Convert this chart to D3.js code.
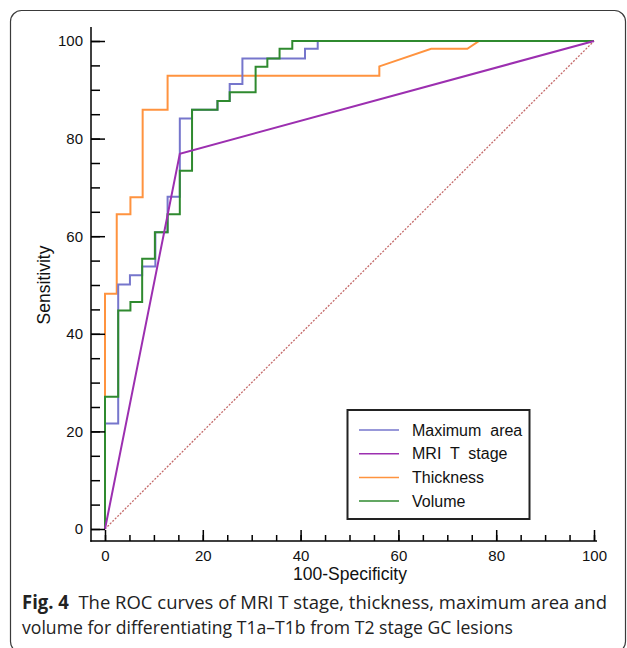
<!DOCTYPE html>
<html>
<head>
<meta charset="utf-8">
<script src="https://cdn.jsdelivr.net/npm/d3@7"></script>
<style>
  body { margin: 0; background: #fff; }
  svg { display: block; }
</style>
</head>
<body>
<svg id="chart" width="627" height="648"></svg>
<script>
// ROC points: [100-specificity, sensitivity]
const maxArea = [[0,0],[0,21.6],[2.7,21.6],[2.7,50.1],[5.1,50.1],[5.1,52],[7.6,52],[7.6,53.8],
  [10.3,53.8],[10.3,60.8],[12.8,60.8],[12.8,68.1],[15.3,68.1],[15.3,84.1],[17.8,84.1],[17.8,85.9],
  [23,85.9],[23,87.7],[25.5,87.7],[25.5,91.2],[28.1,91.2],[28.1,96.4],[40.9,96.4],[40.9,98.4],
  [43.5,98.4],[43.5,100],[100,100]];
const mriStage = [[0,0],[15.3,76.9],[100,100]];
const thickness = [[0,0],[0,48.2],[2.4,48.2],[2.4,64.5],[5.2,64.5],[5.2,68],[7.7,68],[7.7,85.9],
  [12.8,85.9],[12.8,92.9],[56.1,92.9],[56.1,94.8],[66.7,98.4],[74.1,98.4],[76.5,100],[100,100]];
const volume = [[0,0],[0,27.1],[2.7,27.1],[2.7,44.8],[5.2,44.8],[5.2,46.5],[7.6,46.5],[7.6,55.4],
  [10.2,55.4],[10.2,60.8],[12.8,60.8],[12.8,64.5],[15.3,64.5],[15.3,73.4],[17.8,73.4],[17.8,85.9],
  [23,85.9],[23,87.7],[25.5,87.7],[25.5,89.5],[30.8,89.5],[30.8,94.7],[33.2,94.7],[33.2,96.4],
  [35.7,96.4],[35.7,98.4],[38.3,98.4],[38.3,100],[100,100]];
const chance = [[0,0],[100,100]];

const majorTicks = [0, 20, 40, 60, 80, 100];
const minorTicks = d3.range(0, 101, 5);

const series = [
  { name: 'Maximum  area', data: maxArea, color: '#7676cc' },
  { name: 'MRI  T  stage', data: mriStage, color: '#9c2fb0' },
  { name: 'Thickness', data: thickness, color: '#ff933f' },
  { name: 'Volume', data: volume, color: '#2f8a2f' }
];
const drawOrder = ['Thickness', 'Maximum  area', 'Volume', 'MRI  T  stage'];

const svg = d3.select('#chart');

// figure frame
svg.append('rect')
  .attr('x', 10.5).attr('y', 10.5)
  .attr('width', 615).attr('height', 642)
  .attr('rx', 11)
  .attr('fill', 'none')
  .attr('stroke', '#3a3a3a')
  .attr('stroke-width', 1.2);

const x = d3.scaleLinear().domain([0, 100]).range([105, 594]);
const y = d3.scaleLinear().domain([0, 100]).range([529, 41]);

const line = d3.line().x(d => x(d[0])).y(d => y(d[1]));

// chance diagonal
svg.append('path')
  .attr('d', line(chance))
  .attr('fill', 'none')
  .attr('stroke', '#c46a6a')
  .attr('stroke-width', 1.3)
  .attr('stroke-dasharray', '2,1.5');

drawOrder.forEach(n => {
  const s = series.find(d => d.name === n);
  svg.append('path')
    .attr('d', line(s.data))
    .attr('fill', 'none')
    .attr('stroke', s.color)
    .attr('stroke-width', 2);
});

// axes
const axisFont = 'Liberation Sans, Arial, sans-serif';

const yMajor = svg.append('g').attr('transform', 'translate(91,0)')
  .call(d3.axisLeft(y).tickValues(majorTicks).tickSize(-14).tickPadding(8));
const yMinor = svg.append('g').attr('transform', 'translate(91,0)')
  .call(d3.axisLeft(y).tickValues(minorTicks).tickSize(-9).tickFormat(''));
const xMajor = svg.append('g').attr('transform', 'translate(0,541)')
  .call(d3.axisBottom(x).tickValues(majorTicks).tickSize(-11).tickPadding(6));
const xMinor = svg.append('g').attr('transform', 'translate(0,541)')
  .call(d3.axisBottom(x).tickValues(minorTicks).tickSize(-6).tickFormat(''));

[yMajor, yMinor, xMajor, xMinor].forEach(g => {
  g.select('.domain').remove();
  g.selectAll('line').attr('stroke', '#000').attr('stroke-width', 1.5);
  g.selectAll('text').attr('font-family', axisFont).attr('font-size', 15).attr('fill', '#111');
});
xMajor.selectAll('text').attr('dy', '0.9em');

svg.append('line').attr('x1', 91).attr('x2', 91).attr('y1', 27).attr('y2', 541.7)
  .attr('stroke', '#000').attr('stroke-width', 1.5);
svg.append('line').attr('x1', 90.3).attr('x2', 597).attr('y1', 541).attr('y2', 541)
  .attr('stroke', '#000').attr('stroke-width', 1.5);

svg.append('text')
  .attr('x', 350).attr('y', 580)
  .attr('text-anchor', 'middle')
  .attr('font-family', axisFont).attr('font-size', 17.5)
  .attr('fill', '#111')
  .text('100-Specificity');

svg.append('text')
  .attr('transform', 'translate(50,285) rotate(-90)')
  .attr('text-anchor', 'middle')
  .attr('font-family', axisFont).attr('font-size', 17.5)
  .attr('fill', '#111')
  .text('Sensitivity');

// legend
const legend = svg.append('g');
legend.append('rect')
  .attr('x', 347.5).attr('y', 410)
  .attr('width', 182).attr('height', 109)
  .attr('fill', '#fff')
  .attr('stroke', '#222')
  .attr('stroke-width', 2);

legend.selectAll('line.key')
  .data(series)
  .enter().append('line')
  .attr('class', 'key')
  .attr('x1', 359).attr('x2', 399)
  .attr('y1', (d, i) => 430 + i * 23.7)
  .attr('y2', (d, i) => 430 + i * 23.7)
  .attr('stroke', d => d.color)
  .attr('stroke-width', 1.5);

legend.selectAll('text')
  .data(series)
  .enter().append('text')
  .attr('x', 412)
  .attr('y', (d, i) => 430 + i * 23.7 + 5.5)
  .attr('font-family', axisFont).attr('font-size', 16)
  .attr('fill', '#111')
  .attr('xml:space', 'preserve')
  .style('white-space', 'pre')
  .text(d => d.name);

// caption
const capFont = 'Open Sans, Noto Sans, sans-serif';
const cap1 = svg.append('text')
  .attr('x', 22).attr('y', 609)
  .attr('font-family', capFont).attr('font-size', 19)
  .attr('fill', '#222')
  .attr('textLength', 585).attr('lengthAdjust', 'spacingAndGlyphs');
cap1.append('tspan').attr('font-weight', 'bold').text('Fig. 4');
cap1.append('tspan').text('\u00a0\u00a0The ROC curves of MRI T stage, thickness, maximum area and');

svg.append('text')
  .attr('x', 22).attr('y', 634)
  .attr('font-family', capFont).attr('font-size', 19)
  .attr('fill', '#222')
  .attr('textLength', 491).attr('lengthAdjust', 'spacingAndGlyphs')
  .text('volume for differentiating T1a\u2013T1b from T2 stage GC lesions');
</script>
</body>
</html>
